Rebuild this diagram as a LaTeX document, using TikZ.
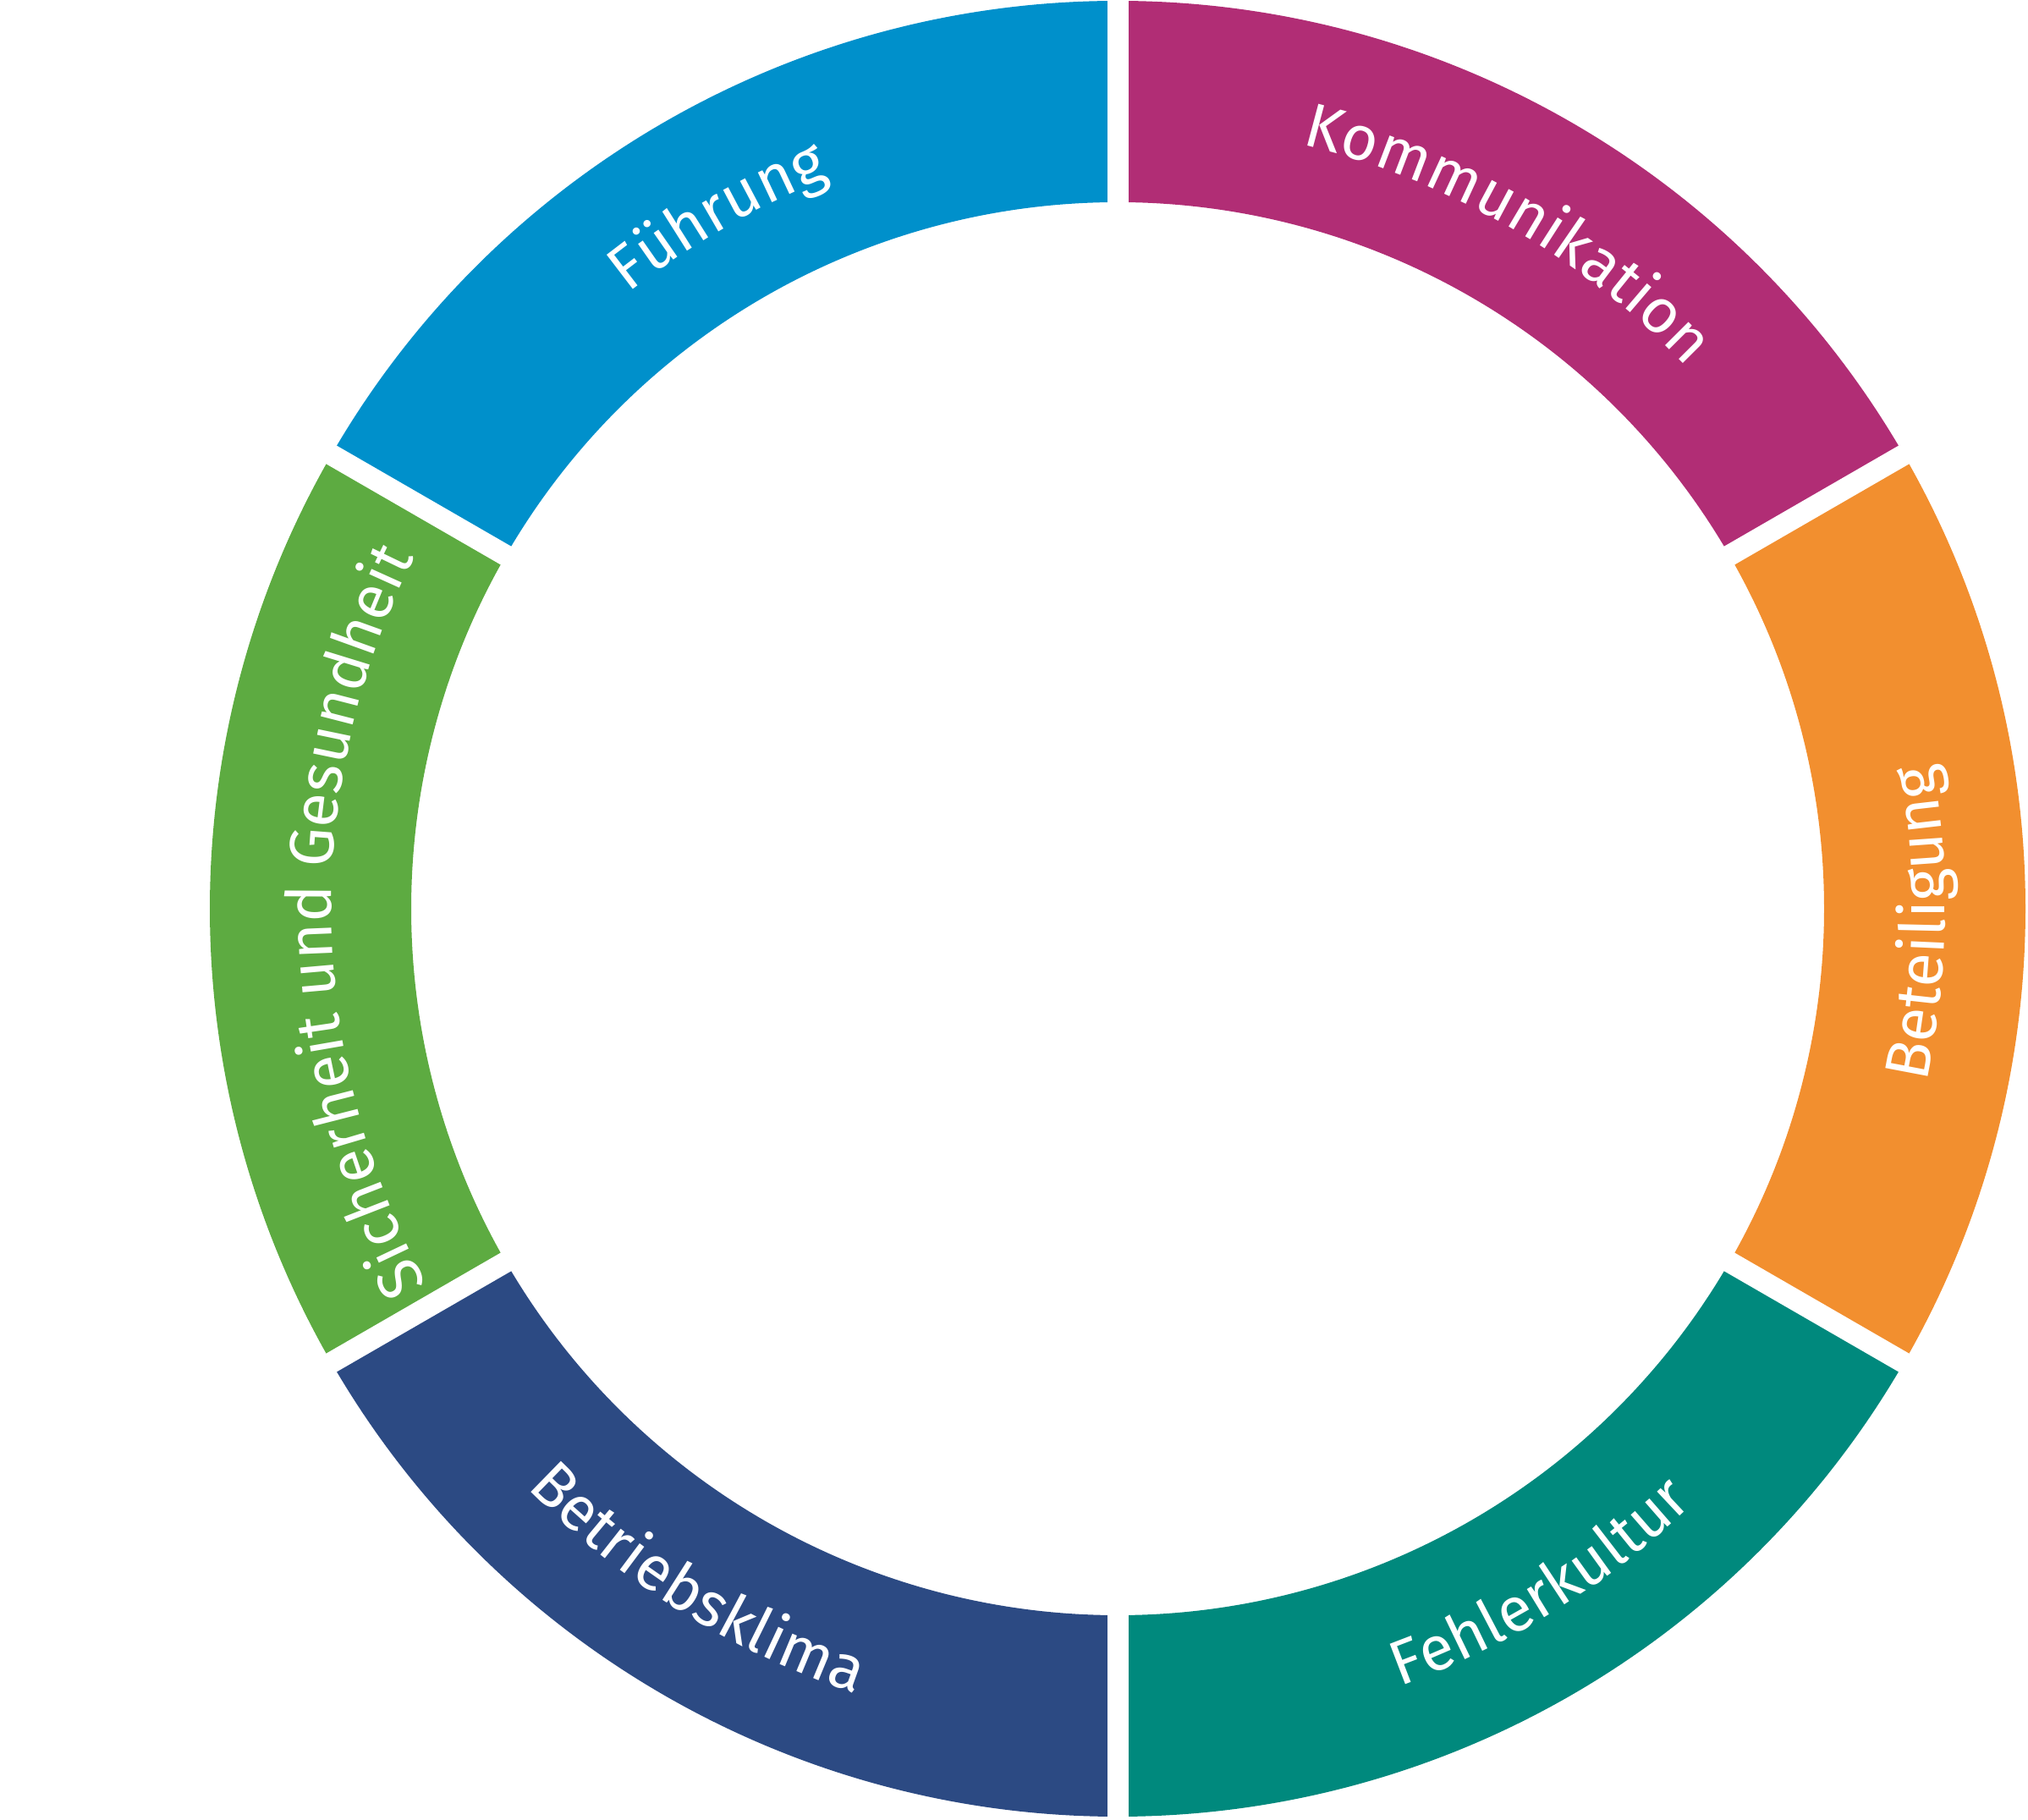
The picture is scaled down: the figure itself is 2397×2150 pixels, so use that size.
\documentclass[tikz,border=0pt]{standalone}
\usepackage{fontspec}
\newfontfamily\labelfam{Fira Sans}
\usetikzlibrary{decorations.text}
\definecolor{cFuehrung}{HTML}{0090CB}
\definecolor{cKomm}{HTML}{B12D75}
\definecolor{cBet}{HTML}{F28F2F}
\definecolor{cFehler}{HTML}{00897D}
\definecolor{cKlima}{HTML}{2C4A83}
\definecolor{cSich}{HTML}{5DAB41}
\newcommand{\labelfont}{\labelfam\fontsize{74}{80}\selectfont}
\newcommand{\ringseg}[3]{% color, start, end
  \fill[#1] ([shift={(c)}]#2:1073) arc[start angle=#2, end angle=#3, radius=1073]
    -- ([shift={(c)}]#3:835) arc[start angle=#3, end angle=#2, radius=835] -- cycle;}
\tikzset{
  gapline/.style={white, line width=25pt},
  cwlabel/.style={postaction={decorate}, decoration={text along path, text align=center,
      text color=white, text={|\labelfont|#1}}},
  ccwlabel/.style={postaction={decorate}, decoration={text along path, text align=center,
      text color=white, text={|\labelfont|#1}}}
}
\begin{document}
\begin{tikzpicture}[x=1pt,y=1pt]
\useasboundingbox (0,0) rectangle (2397,2150);
\coordinate (c) at (1321,1076);
\ringseg{cKomm}{30}{90}
\ringseg{cFuehrung}{90}{150}
\ringseg{cSich}{150}{210}
\ringseg{cKlima}{210}{270}
\ringseg{cFehler}{270}{330}
\ringseg{cBet}{330}{390}
\foreach \a in {30,90,150,210,270,330}
  \draw[gapline] (c) -- ++(\a:1120);
% labels, tops outward (clockwise)
\path[cwlabel={Kommunikation}] ([shift={(c)}]90:929) arc[start angle=90, end angle=30, radius=929];
\path[cwlabel={Führung}] ([shift={(c)}]150:929) arc[start angle=150, end angle=90, radius=929];
\path[cwlabel={Sicherheit und Gesundheit}] ([shift={(c)}]213:929) arc[start angle=213, end angle=149, radius=929];
% labels, tops inward (counter-clockwise)
\path[ccwlabel={Betriebsklima}] ([shift={(c)}]208:978) arc[start angle=208, end angle=268, radius=978];
\path[ccwlabel={Fehlerkultur}] ([shift={(c)}]272:978) arc[start angle=272, end angle=332, radius=978];
\path[ccwlabel={Beteiligung}] ([shift={(c)}]-31:978) arc[start angle=-31, end angle=29, radius=978];
\end{tikzpicture}
\end{document}
